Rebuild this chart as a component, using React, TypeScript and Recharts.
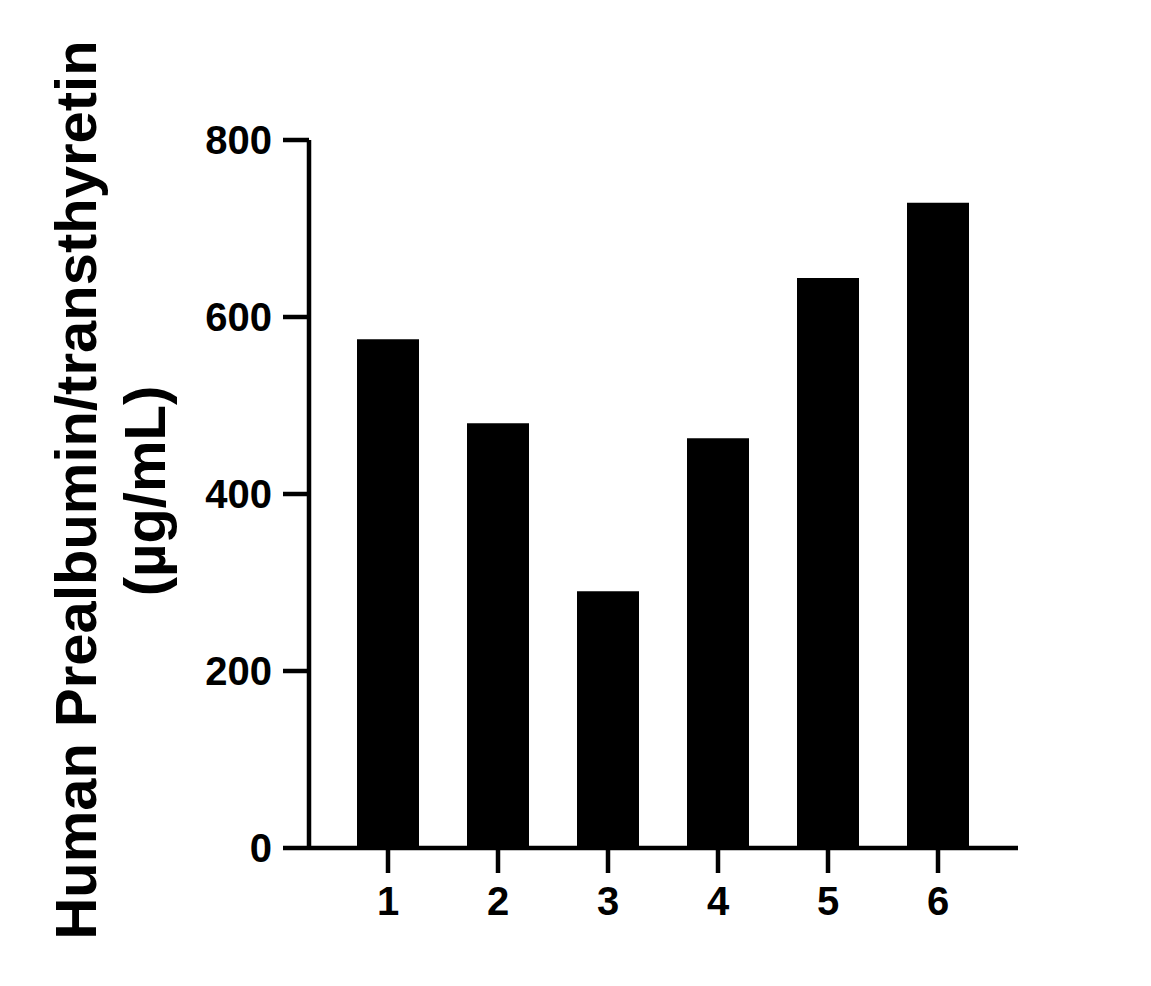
import { BarChart, Bar, XAxis, YAxis } from 'recharts'

const categories = ['1', '2', '3', '4', '5', '6']
const values = [575, 480, 290, 463, 644, 729]
const yTicks = [0, 200, 400, 600, 800]

const data = categories.map((name, i) => ({ name, value: values[i] }))

const FONT = '"Liberation Sans", Arial, Helvetica, sans-serif'

function AxisTitle() {
  return (
    <g fontFamily={FONT} fontWeight="bold" fontSize={58} fill="#000">
      <text transform="translate(96, 490) rotate(-90)" textAnchor="middle">
        Human Prealbumin/transthyretin
      </text>
      <text transform="translate(165, 491) rotate(-90)" textAnchor="middle">
        (µg/mL)
      </text>
    </g>
  )
}

export default function App() {
  return (
    <div style={{ position: 'absolute', left: 0, top: 0, width: 1151, height: 986, background: '#fff' }}>
      <BarChart
        width={1151}
        height={986}
        data={data}
        margin={{ top: 140, right: 133, bottom: 0, left: 189 }}
      >
        <XAxis
          dataKey="name"
          padding={{ left: 24, right: 25 }}
          axisLine={{ stroke: '#000', strokeWidth: 4.5 }}
          tickLine={{ stroke: '#000', strokeWidth: 4.5 }}
          tickSize={25}
          tickMargin={14}
          tick={{ fill: '#000', fontSize: 40, fontWeight: 'bold', fontFamily: FONT }}
          height={138}
        />
        <YAxis
          width={120}
          domain={[0, 800]}
          ticks={yTicks}
          interval={0}
          axisLine={{ stroke: '#000', strokeWidth: 4.5 }}
          tickLine={{ stroke: '#000', strokeWidth: 4.5 }}
          tickSize={26}
          tickMargin={11}
          tick={{ fill: '#000', fontSize: 40, fontWeight: 'bold', fontFamily: FONT }}
          label={{ content: () => <AxisTitle /> }}
        />
        <Bar dataKey="value" fill="#000" barSize={62} isAnimationActive={false} />
      </BarChart>
    </div>
  )
}
